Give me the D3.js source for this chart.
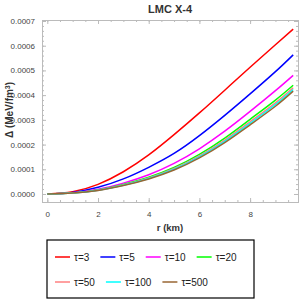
<!DOCTYPE html>
<html>
<head>
<meta charset="utf-8">
<script src="https://cdn.jsdelivr.net/npm/d3@7"></script>
<style>
  body { margin: 0; background: #fff; }
  svg { display: block; font-family: "Liberation Sans", Arial, sans-serif; }
</style>
</head>
<body>
<svg id="chart" width="300" height="300"></svg>
<script>
// radius (km) at which the curves were read
var radii = [0, 1, 2, 3, 4, 5, 6, 7, 8, 9, 9.7];

// anisotropy Delta (MeV/fm^3), one array per tau
var tau3 = [0, 0.0000095, 0.000039, 0.00009, 0.000158, 0.00024, 0.000328, 0.00042, 0.000513, 0.000604, 0.000667];
var tau5 = [0, 0.0000065, 0.000027, 0.000061, 0.000108, 0.000164, 0.000236, 0.000318, 0.000405, 0.000495, 0.000563];
var tau10 = [0, 0.0000048, 0.000019, 0.000044, 0.000078, 0.000124, 0.000183, 0.000254, 0.000334, 0.000418, 0.00048];
var tau20 = [0, 0.000004, 0.000016, 0.000038, 0.0000675, 0.000107, 0.00016, 0.000226, 0.000302, 0.00038, 0.00044];
var tau50 = [0, 0.0000039, 0.0000155, 0.0000365, 0.000065, 0.000103, 0.000154, 0.000218, 0.000292, 0.000369, 0.00043];
var tau100 = [0, 0.0000038, 0.000015, 0.0000355, 0.000063, 0.0001, 0.00015, 0.000213, 0.000286, 0.000362, 0.000423];
var tau500 = [0, 0.0000037, 0.0000145, 0.0000345, 0.000061, 0.000097, 0.000146, 0.000208, 0.00028, 0.000355, 0.000416];

var seriesNames = ['\u03c4=3', '\u03c4=5', '\u03c4=10', '\u03c4=20', '\u03c4=50', '\u03c4=100', '\u03c4=500'];
var seriesColors = ['#ff0000', '#0000ff', '#ff00ff', '#00ff00', '#ff8080', '#00ffff', '#996633'];
var seriesValues = [tau3, tau5, tau10, tau20, tau50, tau100, tau500];

var xTicks = [0, 2, 4, 6, 8];
var yTicks = [0, 0.0001, 0.0002, 0.0003, 0.0004, 0.0005, 0.0006, 0.0007];

(function() {
  var svg = d3.select('#chart');
  var plotLeft = 42, plotRight = 298, plotTop = 20, plotBottom = 202;

  var x = d3.scaleLinear().domain([-0.21, 9.89]).range([plotLeft, plotRight]);
  var y = d3.scaleLinear().domain([-0.0000324, 0.000704]).range([plotBottom, plotTop]);

  var frameColor = '#bbb';
  var labelColor = '#444';

  function styleAxis(g, showLabels) {
    g.select('.domain').attr('stroke', frameColor);
    g.selectAll('.tick line').attr('stroke', frameColor);
    g.selectAll('.tick text')
      .attr('fill', labelColor)
      .style('font-size', '8px')
      .style('display', showLabels ? null : 'none');
  }

  var xMinor = d3.range(0, 10, 0.5);
  var yMinor = d3.range(0, 0.00071, 0.00002);

  // minor ticks on all sides
  svg.append('g').attr('transform', 'translate(0,' + plotBottom + ')')
    .call(d3.axisBottom(x).tickValues(xMinor).tickSize(-2).tickFormat(''))
    .call(styleAxis, false);
  svg.append('g').attr('transform', 'translate(0,' + plotTop + ')')
    .call(d3.axisTop(x).tickValues(xMinor).tickSize(-2).tickFormat(''))
    .call(styleAxis, false);
  svg.append('g').attr('transform', 'translate(' + plotLeft + ',0)')
    .call(d3.axisLeft(y).tickValues(yMinor).tickSize(-2).tickFormat(''))
    .call(styleAxis, false);
  svg.append('g').attr('transform', 'translate(' + plotRight + ',0)')
    .call(d3.axisRight(y).tickValues(yMinor).tickSize(-2).tickFormat(''))
    .call(styleAxis, false);

  // major ticks
  svg.append('g').attr('transform', 'translate(0,' + plotBottom + ')')
    .call(d3.axisBottom(x).tickValues(xTicks).tickSize(-4).tickPadding(9).tickFormat(d3.format('d')))
    .call(styleAxis, true);
  svg.append('g').attr('transform', 'translate(0,' + plotTop + ')')
    .call(d3.axisTop(x).tickValues(xTicks).tickSize(-4).tickFormat(''))
    .call(styleAxis, false);
  svg.append('g').attr('transform', 'translate(' + plotLeft + ',0)')
    .call(d3.axisLeft(y).tickValues(yTicks).tickSize(-4).tickPadding(7).tickFormat(d3.format('.4f')))
    .call(styleAxis, true);
  svg.append('g').attr('transform', 'translate(' + plotRight + ',0)')
    .call(d3.axisRight(y).tickValues(yTicks).tickSize(-4).tickFormat(''))
    .call(styleAxis, false);

  var line = d3.line()
    .x(function(d) { return x(d[0]); })
    .y(function(d) { return y(d[1]); })
    .curve(d3.curveNatural);

  seriesValues.forEach(function(values, i) {
    svg.append('path')
      .datum(radii.map(function(r, k) { return [r, values[k]]; }))
      .attr('fill', 'none')
      .attr('stroke', seriesColors[i])
      .attr('stroke-width', 1.5)
      .attr('d', line);
  });

  // title and axis labels
  svg.append('text')
    .attr('x', (plotLeft + plotRight) / 2).attr('y', 13)
    .attr('text-anchor', 'middle')
    .style('font-size', '11px').style('font-weight', 'bold').attr('fill', '#333')
    .text('LMC X-4');

  svg.append('text')
    .attr('x', (plotLeft + plotRight) / 2).attr('y', 231)
    .attr('text-anchor', 'middle')
    .style('font-size', '9.5px').style('font-weight', 'bold').attr('fill', '#333')
    .text('r (km)');

  var yLabel = svg.append('text')
    .attr('transform', 'translate(13,' + y(0.00034) + ') rotate(-90)')
    .attr('text-anchor', 'middle')
    .style('font-size', '10px').style('font-weight', 'bold').attr('fill', '#333');
  yLabel.append('tspan').text('\u0394  (MeV/fm');
  yLabel.append('tspan').attr('dy', -3.5).style('font-size', '7px').text('3');
  yLabel.append('tspan').attr('dy', 3.5).text(')');

  // legend
  var legend = svg.append('g');
  legend.append('rect')
    .attr('x', 47).attr('y', 240).attr('width', 207).attr('height', 58)
    .attr('fill', '#fff').attr('stroke', '#000').attr('stroke-width', 1.2);

  var rows = [[0, 1, 2, 3], [4, 5, 6]];
  rows.forEach(function(row, r) {
    var cx = 55;
    var cy = 257 + r * 25;
    row.forEach(function(i) {
      legend.append('line')
        .attr('x1', cx).attr('x2', cx + 15)
        .attr('y1', cy).attr('y2', cy)
        .attr('stroke', seriesColors[i]).attr('stroke-width', 1.5);
      var t = legend.append('text')
        .attr('x', cx + 19).attr('y', cy + 3.5)
        .style('font-size', '10px').attr('fill', '#222')
        .text(seriesNames[i]);
      cx += 19 + t.node().getComputedTextLength() + 11;
    });
  });
})();
</script>
</body>
</html>
